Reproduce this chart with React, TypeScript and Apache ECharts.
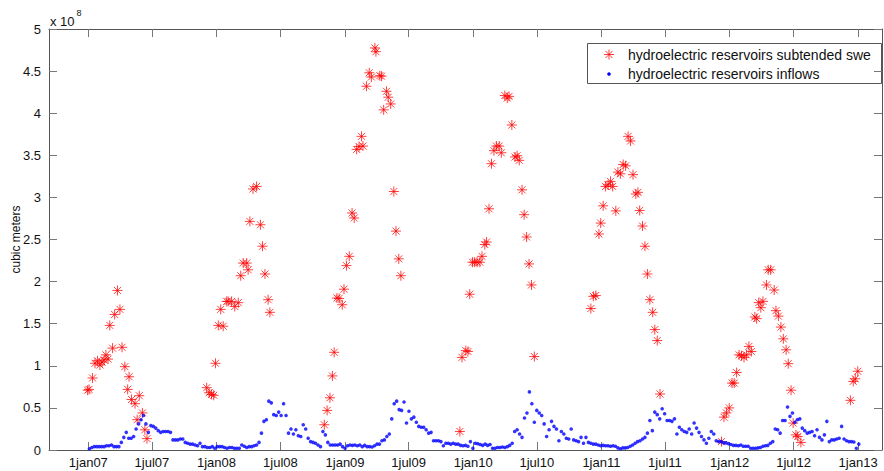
import React, { useEffect, useRef } from 'react';
import * as echarts from 'echarts';

// ---- data ----
const xTickDates = [
  '2007-01-01', '2007-07-01', '2008-01-01', '2008-07-01', '2009-01-01', '2009-07-01',
  '2010-01-01', '2010-07-01', '2011-01-01', '2011-07-01', '2012-01-01', '2012-07-01', '2013-01-01',
];
const xRange = ['2006-09-11', '2013-03-10'];
const yTicksE8 = [0, 0.5, 1, 1.5, 2, 2.5, 3, 3.5, 4, 4.5, 5];

// hydroelectric reservoirs inflows, weekly, in 1e8 cubic meters
const inflowStart = '2007-01-04';
const inflowStepDays = 7;
const inflowsE8 = [
  0.015, 0.03, 0.04, 0.04, 0.04, 0.04, 0.04, 0.05, 0.05, 0.06,
  0.04, 0.04, 0.04, 0.09, 0.15, 0.21, 0.14, 0.14, 0.16, 0.25,
  0.31, 0.36, 0.41, 0.31, 0.21, 0.29, 0.28, 0.26, 0.23, 0.21,
  0.22, 0.22, 0.22, 0.21, 0.12, 0.12, 0.12, 0.13, 0.13, 0.09,
  0.08, 0.07, 0.07, 0.06, 0.05, 0.08, 0.04, 0.04, 0.03, 0.03,
  0.04, 0.02, 0.04, 0.04, 0.04, 0.03, 0.02, 0.03, 0.03, 0.02,
  0.02, 0.02, 0.06, 0.045, 0.03, 0.04, 0.04, 0.05, 0.06, 0.09,
  0.20, 0.34, 0.36, 0.58, 0.56, 0.42, 0.41, 0.45, 0.41, 0.55,
  0.41, 0.20, 0.25, 0.19, 0.24, 0.17, 0.16, 0.30, 0.25, 0.14,
  0.10, 0.09, 0.08, 0.06, 0.04, 0.22, 0.18, 0.09, 0.06, 0.06,
  0.06, 0.06, 0.07, 0.04, 0.02, 0.05, 0.06, 0.055, 0.06, 0.05,
  0.06, 0.04, 0.055, 0.04, 0.04, 0.035, 0.05, 0.07, 0.07, 0.11,
  0.12, 0.16, 0.19, 0.37, 0.55, 0.58, 0.48, 0.47, 0.57, 0.32,
  0.46, 0.37, 0.39, 0.33, 0.28, 0.27, 0.27, 0.24, 0.20, 0.21,
  0.11, 0.11, 0.11, 0.10, 0.05, 0.08, 0.08, 0.07, 0.08, 0.07,
  0.07, 0.055, 0.05, 0.055, 0.045, 0.10, 0.02, 0.08, 0.075, 0.065,
  0.055, 0.07, 0.055, 0.065, 0.02, 0.02, 0.03, 0.03, 0.035, 0.03,
  0.04, 0.055, 0.08, 0.22, 0.24, 0.19, 0.15, 0.38, 0.44, 0.69,
  0.55, 0.33, 0.47, 0.44, 0.41, 0.31, 0.16, 0.24, 0.34, 0.28,
  0.25, 0.11, 0.22, 0.19, 0.14, 0.13, 0.25, 0.12, 0.11, 0.10,
  0.15, 0.08, 0.15, 0.09, 0.08, 0.07, 0.07, 0.06, 0.05, 0.055,
  0.05, 0.05, 0.045, 0.05, 0.045, 0.025, 0.015, 0.025, 0.025, 0.03,
  0.045, 0.06, 0.08, 0.10, 0.11, 0.13, 0.15, 0.20, 0.35, 0.23,
  0.45, 0.42, 0.37, 0.49, 0.43, 0.35, 0.35, 0.34, 0.37, 0.19,
  0.27, 0.24, 0.22, 0.21, 0.25, 0.19, 0.32, 0.26, 0.21, 0.16,
  0.12, 0.08, 0.14, 0.22, 0.19, 0.11, 0.10, 0.10, 0.085, 0.085,
  0.075, 0.065, 0.055, 0.055, 0.05, 0.06, 0.045, 0.045, 0.045, 0.02,
  0.02, 0.02, 0.025, 0.03, 0.045, 0.05, 0.055, 0.08, 0.10, 0.25,
  0.24, 0.20, 0.35, 0.35, 0.51, 0.40, 0.44, 0.33, 0.36, 0.37,
  0.26, 0.23, 0.20, 0.21, 0.22, 0.17, 0.24, 0.15, 0.12, 0.18,
  0.34, 0.10, 0.12, 0.12, 0.13, 0.14, 0.28, 0.13, 0.11, 0.10,
  0.10, 0.095, 0.02, 0.07,
];

// hydroelectric reservoirs subtended swe, in 1e8 cubic meters
const sweDates = [
  '2006-12-30', '2007-01-03', '2007-01-13', '2007-01-20', '2007-01-27', '2007-02-03', '2007-02-09',
  '2007-02-15', '2007-02-20', '2007-02-26', '2007-03-03', '2007-03-11', '2007-03-17', '2007-03-25',
  '2007-04-01', '2007-04-07', '2007-04-15', '2007-04-23', '2007-04-27', '2007-05-04', '2007-05-14',
  '2007-05-20', '2007-05-26', '2007-06-04', '2007-06-11', '2007-06-17',
  '2007-12-04', '2007-12-11', '2007-12-18', '2007-12-24', '2007-12-29', '2008-01-06', '2008-01-13',
  '2008-01-20', '2008-01-30', '2008-02-03', '2008-02-13', '2008-02-22', '2008-03-03', '2008-03-10',
  '2008-03-17', '2008-03-27', '2008-03-31', '2008-04-05', '2008-04-14', '2008-04-24', '2008-05-05',
  '2008-05-11', '2008-05-18', '2008-05-27', '2008-06-01',
  '2008-11-03', '2008-11-11', '2008-11-19', '2008-11-26', '2008-12-01', '2008-12-09', '2008-12-15',
  '2008-12-24', '2008-12-29', '2009-01-05', '2009-01-13', '2009-01-21', '2009-01-27', '2009-02-03',
  '2009-02-10', '2009-02-17', '2009-02-21', '2009-03-03', '2009-03-11', '2009-03-17', '2009-03-27',
  '2009-03-30', '2009-04-10', '2009-04-15', '2009-04-21', '2009-04-29', '2009-05-04', '2009-05-11',
  '2009-05-20', '2009-05-26', '2009-06-03', '2009-06-09',
  '2009-11-24', '2009-11-30', '2009-12-11', '2009-12-17', '2009-12-22', '2009-12-30', '2010-01-05',
  '2010-01-12', '2010-01-20', '2010-01-26', '2010-02-03', '2010-02-08', '2010-02-15', '2010-02-22',
  '2010-03-01', '2010-03-08', '2010-03-16', '2010-03-22', '2010-04-01', '2010-04-08', '2010-04-13',
  '2010-04-21', '2010-04-30', '2010-05-06', '2010-05-12', '2010-05-20', '2010-05-26', '2010-06-02',
  '2010-06-09', '2010-06-16', '2010-06-24',
  '2010-12-02', '2010-12-09', '2010-12-16', '2010-12-25', '2010-12-30', '2011-01-06', '2011-01-13',
  '2011-01-20', '2011-01-27', '2011-02-02', '2011-02-11', '2011-02-17', '2011-02-24', '2011-03-04',
  '2011-03-11', '2011-03-18', '2011-03-25', '2011-04-01', '2011-04-09', '2011-04-15', '2011-04-20',
  '2011-04-28', '2011-05-05', '2011-05-12', '2011-05-19', '2011-05-27', '2011-06-02', '2011-06-09',
  '2011-06-17',
  '2011-12-09', '2011-12-16', '2011-12-23', '2011-12-31', '2012-01-08', '2012-01-14', '2012-01-21',
  '2012-01-28', '2012-02-04', '2012-02-11', '2012-02-18', '2012-02-25', '2012-03-03', '2012-03-13',
  '2012-03-18', '2012-03-24', '2012-03-30', '2012-04-05', '2012-04-15', '2012-04-20', '2012-04-27',
  '2012-05-07', '2012-05-12', '2012-05-19', '2012-05-26', '2012-06-02', '2012-06-10', '2012-06-16',
  '2012-06-24', '2012-06-30', '2012-07-08', '2012-07-13', '2012-07-22',
  '2012-12-10', '2012-12-18', '2012-12-24', '2012-12-31',
];
const sweE8 = [
  0.71, 0.72, 0.855, 1.03, 1.06, 1.01, 1.045,
  1.07, 1.13, 1.08, 1.48, 1.21, 1.61, 1.895,
  1.67, 1.22, 0.99, 0.72, 0.87, 0.60, 0.55,
  0.36, 0.645, 0.44, 0.24, 0.135,
  0.74, 0.68, 0.66, 0.65, 1.03, 1.48, 1.67,
  1.47, 1.765, 1.765, 1.765, 1.705, 1.75, 2.07,
  2.22, 2.22, 2.14, 2.715, 3.10, 3.13, 2.675,
  2.42, 2.09, 1.785, 1.635,
  0.30, 0.47, 0.62, 0.88, 1.16, 1.805, 1.80,
  1.725, 1.91, 2.19, 2.30, 2.815, 2.755, 3.57,
  3.605, 3.725, 3.61, 4.32, 4.48, 4.43, 4.775,
  4.73, 4.445, 4.44, 4.04, 4.26, 4.19, 4.11,
  3.07, 2.60, 2.27, 2.07,
  0.22, 1.10, 1.18, 1.17, 1.85, 2.23, 2.23,
  2.23, 2.23, 2.30, 2.44, 2.47, 2.865, 3.40,
  3.555, 3.61, 3.61, 3.53, 4.21, 4.18, 4.20,
  3.86, 3.48, 3.495, 3.44, 3.09, 2.795, 2.53,
  2.21, 1.96, 1.11,
  1.68, 1.825, 1.835, 2.565, 2.695, 2.90, 3.13,
  3.15, 3.19, 3.13, 2.84, 3.30, 3.28, 3.39,
  3.375, 3.725, 3.67, 3.27, 3.04, 3.06, 2.845,
  2.66, 2.42, 2.09, 1.785, 1.635, 1.43, 1.30,
  0.665,
  0.10, 0.39, 0.44, 0.50, 0.795, 0.795, 0.92,
  1.13, 1.12, 1.10, 1.13, 1.23, 1.17, 1.58,
  1.56, 1.75, 1.69, 1.765, 1.96, 2.14, 2.14,
  1.90, 1.655, 1.59, 1.46, 1.32, 1.19, 1.025,
  0.71, 0.32, 0.18, 0.16, 0.09,
  0.59, 0.815, 0.845, 0.935,
];

const legendNames = ['hydroelectric reservoirs subtended swe', 'hydroelectric reservoirs inflows'];

const FONT = '"Liberation Sans", Arial, Helvetica, sans-serif';
const MONTHS = ['jan', 'feb', 'mar', 'apr', 'may', 'jun', 'jul', 'aug', 'sep', 'oct', 'nov', 'dec'];
const DAY = 86400000;
const E8 = 1e8;

function utc(s: string): number {
  const [y, m, d] = s.split('-').map(Number);
  return Date.UTC(y, m - 1, d);
}
function dateLabel(v: number): string {
  const d = new Date(v);
  return `${d.getUTCDate()}${MONTHS[d.getUTCMonth()]}${String(d.getUTCFullYear() % 100).padStart(2, '0')}`;
}

const STAR = 'path://M0 5L10 5M5 0L5 10M1.5 1.5L8.5 8.5M1.5 8.5L8.5 1.5';

export default function App() {
  const ref = useRef<HTMLDivElement>(null);

  useEffect(() => {
    document.body.style.margin = '0';
    if (!ref.current) return;
    const chart = echarts.init(ref.current, undefined, { renderer: 'svg' });

    const xTicks = xTickDates.map(utc);
    const yTicks = yTicksE8.map((v) => v * E8);
    const t0 = utc(inflowStart);
    const inflowData = inflowsE8.map((v, i) => [t0 + i * inflowStepDays * DAY, v * E8]);
    const sweData = sweDates.map((d, i) => [utc(d), sweE8[i] * E8]);

    const axisLineStyle = { color: '#555', width: 1 };
    const tickStyle = { color: '#777', width: 1 };
    const xMin = utc(xRange[0]);
    const xMax = utc(xRange[1]);

    chart.setOption({
      animation: false,
      backgroundColor: '#fff',
      grid: { left: 49, right: 2, top: 29, bottom: 21, containLabel: false, outerBoundsMode: 'none' },
      xAxis: [
        {
          type: 'value',
          position: 'bottom',
          min: xMin,
          max: xMax,
          splitLine: { show: false },
          axisLine: { show: true, onZero: false, lineStyle: axisLineStyle },
          axisTick: { show: true, inside: true, length: 8, lineStyle: tickStyle, customValues: xTicks },
          axisLabel: {
            show: true,
            customValues: xTicks,
            formatter: (v: number) => dateLabel(v),
            color: '#111',
            fontSize: 13,
            fontFamily: FONT,
            margin: 6,
          },
        },
        {
          type: 'value',
          position: 'top',
          min: xMin,
          max: xMax,
          splitLine: { show: false },
          axisLine: { show: true, onZero: false, lineStyle: axisLineStyle },
          axisTick: { show: true, inside: true, length: 8, lineStyle: tickStyle, customValues: xTicks },
          axisLabel: { show: false },
        },
      ],
      yAxis: [
        {
          type: 'value',
          position: 'left',
          min: 0,
          max: 5 * E8,
          interval: 0.5 * E8,
          name: 'cubic meters',
          nameLocation: 'middle',
          nameGap: 27,
          nameRotate: 90,
          nameMoveOverlap: false,
          nameTextStyle: { color: '#111', fontSize: 12, fontFamily: FONT },
          splitLine: { show: false },
          axisLine: { show: true, onZero: false, lineStyle: axisLineStyle },
          axisTick: { show: true, inside: true, length: 8, lineStyle: tickStyle, customValues: yTicks },
          axisLabel: {
            show: true,
            customValues: yTicks,
            formatter: (v: number) => String(parseFloat((v / E8).toFixed(2))),
            color: '#111',
            fontSize: 13,
            fontFamily: FONT,
            margin: 8,
          },
        },
        {
          type: 'value',
          position: 'right',
          min: 0,
          max: 5 * E8,
          interval: 0.5 * E8,
          splitLine: { show: false },
          axisLine: { show: true, onZero: false, lineStyle: axisLineStyle },
          axisTick: { show: true, inside: true, length: 8, lineStyle: tickStyle },
          axisLabel: { show: false },
        },
      ],
      series: [
        {
          name: legendNames[0],
          type: 'scatter',
          xAxisIndex: 0,
          yAxisIndex: 0,
          symbol: STAR,
          symbolSize: 10,
          itemStyle: { color: '#ff0000', borderColor: '#ff0000', borderWidth: 1, opacity: 0.75 },
          emphasis: { disabled: true },
          data: sweData,
          z: 2,
        },
        {
          name: legendNames[1],
          type: 'scatter',
          xAxisIndex: 0,
          yAxisIndex: 0,
          symbol: 'circle',
          symbolSize: 3.6,
          itemStyle: { color: '#0000ff' },
          emphasis: { disabled: true },
          data: inflowData,
          z: 3,
        },
      ],
      graphic: [
        {
          type: 'text',
          x: 50,
          y: 21,
          style: { text: 'x 10', fontSize: 13, fontFamily: FONT, fill: '#111', verticalAlign: 'middle' },
        },
        {
          type: 'text',
          x: 76.5,
          y: 13,
          style: { text: '8', fontSize: 9, fontFamily: FONT, fill: '#111', verticalAlign: 'middle' },
        },
        {
          type: 'group',
          z: 100,
          children: [
            {
              type: 'rect',
              shape: { x: 587.5, y: 43.5, width: 294, height: 40 },
              style: { fill: '#fff', stroke: '#555', lineWidth: 1 },
            },
            { type: 'line', shape: { x1: 604, y1: 54.5, x2: 614, y2: 54.5 }, style: { stroke: '#ff0000', lineWidth: 1, opacity: 0.75 } },
            { type: 'line', shape: { x1: 609, y1: 49.5, x2: 609, y2: 59.5 }, style: { stroke: '#ff0000', lineWidth: 1, opacity: 0.75 } },
            { type: 'line', shape: { x1: 605.5, y1: 51, x2: 612.5, y2: 58 }, style: { stroke: '#ff0000', lineWidth: 1, opacity: 0.75 } },
            { type: 'line', shape: { x1: 605.5, y1: 58, x2: 612.5, y2: 51 }, style: { stroke: '#ff0000', lineWidth: 1, opacity: 0.75 } },
            { type: 'circle', shape: { cx: 609, cy: 74, r: 1.8 }, style: { fill: '#0000ff' } },
            {
              type: 'text',
              x: 628,
              y: 54.5,
              style: { text: legendNames[0], fontSize: 14, fontFamily: FONT, fill: '#111', verticalAlign: 'middle' },
            },
            {
              type: 'text',
              x: 628,
              y: 74,
              style: { text: legendNames[1], fontSize: 14, fontFamily: FONT, fill: '#111', verticalAlign: 'middle' },
            },
          ],
        },
      ],
    });

    return () => chart.dispose();
  }, []);

  return <div ref={ref} style={{ width: 884, height: 471 }} />;
}
